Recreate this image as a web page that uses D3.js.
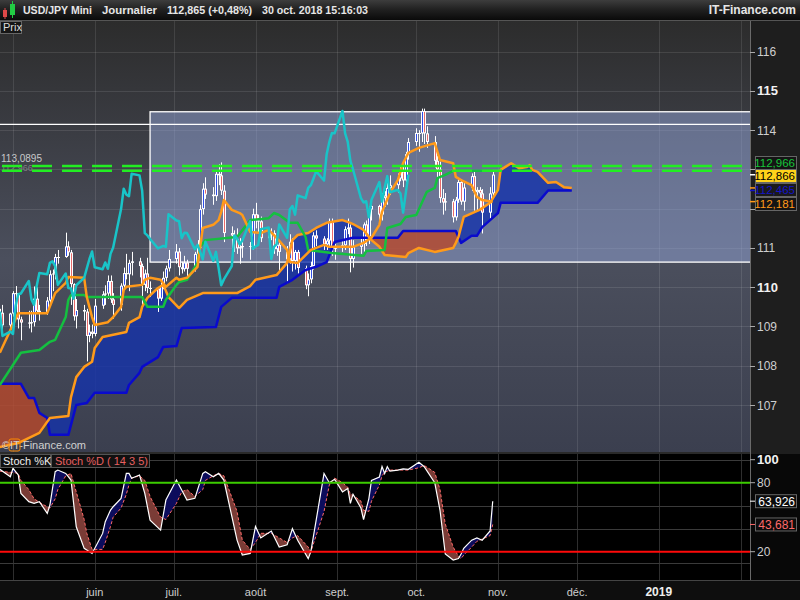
<!DOCTYPE html>
<html>
<head>
<meta charset="utf-8">
<script src="https://cdn.jsdelivr.net/npm/d3@7"></script>
<style>
  body { margin: 0; background: #1b1b1b; }
  svg { display: block; font-family: "Liberation Sans", Arial, sans-serif; }
</style>
</head>
<body>
<div id="chart"></div>
<script>
// ---- candles (USD/JPY daily, 2018) ----
const days = ["04-26","04-27","04-30",
  "05-01","05-02","05-03","05-04","05-07","05-08","05-09","05-10","05-11","05-14","05-15","05-16","05-17","05-18","05-21","05-22","05-23","05-24","05-25","05-28","05-29","05-30","05-31",
  "06-01","06-04","06-05","06-06","06-07","06-08","06-11","06-12","06-13","06-14","06-15","06-18","06-19","06-20","06-21","06-22","06-25","06-26","06-27","06-28","06-29",
  "07-02","07-03","07-04","07-05","07-06","07-09","07-10","07-11","07-12","07-13","07-16","07-17","07-18","07-19","07-20","07-23","07-24","07-25","07-26","07-27","07-30","07-31",
  "08-01","08-02","08-03","08-06","08-07","08-08","08-09","08-10","08-13","08-14","08-15","08-16","08-17","08-20","08-21","08-22","08-23","08-24","08-27","08-28","08-29","08-30","08-31",
  "09-03","09-04","09-05","09-06","09-07","09-10","09-11","09-12","09-13","09-14","09-17","09-18","09-19","09-20","09-21","09-24","09-25","09-26","09-27","09-28",
  "10-01","10-02","10-03","10-04","10-05","10-08","10-09","10-10","10-11","10-12","10-15","10-16","10-17","10-18","10-19","10-22","10-23","10-24","10-25","10-26","10-29","10-30"];

const opens = [109.30,109.35,109.03,
  109.33,109.85,109.84,109.18,109.10,109.08,109.11,109.71,109.40,109.37,109.66,110.33,110.35,110.77,110.77,111.04,110.89,110.08,109.26,109.42,109.38,108.76,108.87,
  108.81,109.53,109.82,109.84,110.16,109.69,109.55,110.04,110.36,110.33,110.62,110.66,110.54,110.06,110.35,109.98,109.97,109.71,110.05,110.24,110.48,
  110.72,110.91,110.51,110.46,110.63,110.47,110.85,111.01,111.99,112.51,112.36,112.32,112.89,112.85,112.46,111.38,111.32,111.23,110.99,111.02,111.05,111.03,
  111.86,111.70,111.68,111.25,111.39,111.38,110.97,111.08,110.90,110.71,111.16,110.67,110.90,110.49,110.05,110.20,110.54,111.32,111.24,111.09,111.19,111.68,110.98,
  111.04,111.07,111.48,111.52,110.72,111.03,111.10,111.60,111.26,111.98,112.07,111.85,112.34,112.27,112.53,112.60,112.77,112.95,112.72,113.39,
  113.70,113.93,113.92,114.49,113.92,113.70,113.22,113.00,112.27,112.16,112.19,111.78,112.23,112.68,112.18,112.54,112.83,112.42,112.48,112.39,111.90,112.39];

const highs = [109.45,109.55,109.35,
  109.90,110.03,109.85,109.25,109.40,109.40,110.02,110.00,109.55,109.75,110.43,110.45,110.85,110.95,111.39,111.17,110.95,110.10,109.70,109.55,109.45,109.05,109.05,
  109.70,109.90,110.05,110.30,110.30,109.85,110.10,110.50,110.85,110.70,110.90,110.75,110.60,110.45,110.75,110.15,110.00,110.20,110.40,110.55,110.95,
  111.10,111.00,110.65,110.80,110.70,110.90,111.20,112.10,112.65,112.80,112.55,112.95,113.13,113.18,112.60,111.55,111.45,111.50,111.25,111.20,111.15,112.00,
  112.15,111.85,111.80,111.50,111.50,111.45,111.15,111.15,111.05,111.35,111.25,110.95,110.95,110.55,110.35,110.65,111.40,111.45,111.30,111.25,111.75,111.75,111.10,
  111.20,111.55,111.75,111.60,111.20,111.25,111.65,111.70,112.05,112.15,112.10,112.40,112.45,112.65,112.85,112.90,113.10,113.15,113.45,113.80,
  114.05,114.00,114.55,114.55,114.10,113.85,113.35,113.20,112.50,112.40,112.25,112.30,112.75,112.75,112.65,112.90,112.95,112.55,112.55,112.50,112.55,112.95];

const lows = [109.05,108.90,108.95,
  109.25,109.60,108.95,108.65,108.95,108.85,109.00,109.35,109.15,109.30,109.60,109.90,110.20,110.60,110.75,110.80,109.55,109.15,108.95,109.15,108.11,108.60,108.70,
  108.75,109.45,109.55,109.70,109.60,109.20,109.40,109.95,110.20,109.90,110.30,110.25,109.55,109.90,109.85,109.75,109.37,109.65,109.95,110.15,110.40,
  110.60,110.30,110.35,110.40,110.25,110.40,110.75,110.85,111.85,112.25,112.10,112.20,112.60,112.35,111.15,110.75,110.90,110.85,110.60,110.75,110.70,110.95,
  111.50,111.40,111.15,111.05,111.20,110.85,110.80,110.40,110.10,110.60,110.40,110.45,110.35,109.95,109.77,110.10,110.45,111.05,110.95,110.95,111.05,110.80,110.70,
  110.90,110.95,111.35,110.38,110.50,110.85,110.90,111.05,111.10,111.70,111.65,111.70,112.05,112.10,112.35,112.40,112.70,112.55,112.65,113.25,
  113.60,113.45,113.70,113.65,113.55,113.05,112.75,112.15,111.85,111.95,111.65,111.70,112.15,112.10,111.95,112.45,111.95,111.95,112.00,111.37,111.75,112.25];

const closes = [109.35,109.03,109.33,
  109.85,109.84,109.18,109.10,109.08,109.11,109.71,109.40,109.37,109.66,110.33,110.35,110.77,110.77,111.04,110.89,110.08,109.26,109.42,109.38,108.76,108.87,108.81,
  109.53,109.82,109.84,110.16,109.69,109.55,110.04,110.36,110.33,110.62,110.66,110.54,110.06,110.35,109.98,109.97,109.71,110.05,110.24,110.48,110.72,
  110.91,110.51,110.46,110.63,110.47,110.85,111.01,111.99,112.51,112.36,112.32,112.89,112.85,112.46,111.38,111.32,111.23,110.99,111.02,111.05,111.03,111.86,
  111.70,111.68,111.25,111.39,111.38,110.97,111.08,110.90,110.71,111.16,110.67,110.90,110.49,110.05,110.20,110.54,111.32,111.24,111.09,111.19,111.68,110.98,111.04,
  111.07,111.48,111.52,110.72,111.03,111.10,111.60,111.26,111.98,112.07,111.85,112.34,112.27,112.53,112.60,112.77,112.95,112.72,113.39,113.70,
  113.93,113.92,114.49,113.92,113.70,113.22,113.00,112.27,112.16,112.19,111.78,112.23,112.68,112.18,112.54,112.83,112.42,112.48,112.39,111.90,112.39,112.87];

// ---- ichimoku lines ----
const tenkanDays = ["04-26","05-03","05-14","05-17","05-21","05-22","05-28","05-29","05-31","06-01","06-06","06-08","06-11","06-12","06-13","06-19","06-20","06-22","06-26","06-28","07-02","07-03","07-06","07-10","07-11","07-12","07-16","07-18","07-19","07-20","07-23","07-26","07-27","07-30","08-03","08-06","08-09","08-13","08-14","08-17","08-22","08-27","08-29","09-07","09-11","09-14","09-17","09-18","09-21","09-24","09-26","09-28","10-02","10-08","10-10","10-15","10-16","10-18","10-22","10-24","10-26","10-30"];
const tenkanValues = [108.33,109.34,109.34,109.85,110.11,110.26,110.24,109.75,109.24,109.04,109.11,109.24,109.50,109.93,110.01,110.06,110.19,110.24,110.19,110.01,110.24,110.19,110.24,110.52,111.03,111.51,111.59,111.71,111.92,112.22,111.97,111.89,111.84,111.41,111.38,111.46,111.26,110.95,110.64,110.62,110.95,111.08,111.03,111.03,111.13,111.26,111.59,111.92,112.40,112.73,113.16,113.42,113.55,113.67,113.24,113.16,112.81,112.73,112.60,112.30,112.22,112.18];

const kijunDays = ["04-26","05-04","05-11","05-15","05-17","05-21","05-22","05-23","05-28","05-29","06-19","06-21","06-27","06-28","07-02","07-03","07-06","07-10","07-11","07-13","07-25","07-30","08-06","08-08","08-10","08-14","08-17","08-20","08-21","08-30","09-11","09-12","09-19","09-20","09-25","09-27","10-01","10-05","10-08","10-09","10-12","10-15","10-30"];
const kijunValues = [107.51,108.33,108.40,108.61,108.66,109.24,109.68,109.80,109.80,109.75,109.75,109.50,109.50,109.68,110.06,110.13,110.19,110.62,111.03,111.20,111.28,111.71,111.76,111.89,111.84,111.64,111.64,111.28,110.95,110.87,110.80,110.92,110.95,111.51,111.61,111.79,111.84,112.43,112.53,112.78,112.86,112.966,112.966];

const spanADays = ["04-26","05-03","05-11","05-15","05-22","05-23","05-25","05-28","05-31","06-01","06-04","06-13","06-14","06-18","06-19","06-21","06-25","06-27","06-29","07-03","07-06","07-12","07-25","07-30","08-01","08-09","08-13","08-14","08-15","08-17","08-21","08-24","08-28","09-03","09-06","09-07","09-11","09-14","09-17","09-19","09-27","09-28","10-02","10-08","10-15","10-16","10-17","10-19","10-25","10-29","11-01","11-02","11-06","11-09","11-12","11-13","11-14","11-16","11-19","11-20","11-23","11-26","11-29"];
const spanAValues = [105.93,106.03,106.29,106.67,106.72,107.20,107.71,107.97,108.10,108.45,108.73,108.86,109.09,109.24,109.50,109.73,109.98,110.06,109.75,109.47,109.68,109.85,109.85,110.03,110.19,110.31,110.62,110.90,111.20,111.33,111.38,111.51,111.64,111.71,111.64,111.61,111.46,111.20,111.03,110.82,110.77,110.87,111.00,110.90,111.00,111.13,111.28,111.79,111.97,112.15,112.48,112.99,113.16,113.03,113.06,113.11,112.99,112.94,112.73,112.66,112.68,112.55,112.53];

const spanBDays = ["04-26","05-04","05-07","05-09","05-11","05-14","05-15","05-22","05-25","05-29","06-01","06-13","06-14","06-18","06-19","06-25","06-27","07-02","07-04","07-17","07-19","07-23","08-09","08-10","08-15","08-20","08-24","08-28","08-31","09-07","09-24","09-26","10-16","10-18","10-22","10-24","10-26","10-29","11-01","11-02","11-16","11-20","11-29"];
const spanBValues = [107.54,107.54,107.18,107.18,106.80,106.67,106.24,106.24,107.00,107.05,107.31,107.31,107.51,107.82,107.97,108.22,108.48,108.50,108.96,108.99,109.50,109.73,109.73,110.01,110.19,110.44,110.52,110.64,111.15,111.26,111.26,111.43,111.43,111.13,111.31,111.31,111.53,111.71,111.89,112.15,112.15,112.465,112.465];

const chikouShift = 22; // lagging span drawn 22 sessions back

// ---- horizontal studies ----
const dashedLevels = [113.0895, 112.966];
const zoneStart = "06-22", zoneTop = 114.47, zoneBottom = 110.64;
const resistanceLevel = 114.15;

// ---- stochastic ----
const stochDays = ["04-26","04-30","05-01","05-03","05-04","05-07","05-09","05-11","05-14","05-15","05-17","05-18","05-21","05-23","05-25","05-28","05-29","05-31","06-04","06-05","06-07","06-08","06-11","06-13","06-14","06-15","06-18","06-20","06-22","06-26","06-28","07-02","07-04","07-06","07-09","07-12","07-13","07-16","07-18","07-20","07-25","07-27","07-30","08-01","08-03","08-07","08-10","08-13","08-15","08-17","08-21","08-22","08-27","08-29","08-31","09-03","09-05","09-06","09-07","09-10","09-11","09-13","09-14","09-17","09-18","09-19","09-20","09-21","09-24","09-26","09-28","10-02","10-04","10-08","10-10","10-12","10-15","10-17","10-18","10-19","10-22","10-24","10-26","10-29","10-30"];
const stochK = [91.6,85.2,92.5,86.7,70.7,63.5,62.0,63.5,53.3,60.6,89.6,91.0,88.1,82.3,41.7,22.9,21.4,18.5,35.9,46.1,56.2,59.1,66.4,88.1,88.1,83.8,86.7,70.7,47.5,38.8,64.9,82.3,73.6,64.9,66.4,88.1,89.6,85.2,88.1,82.3,30.1,17.1,18.5,42,32,38,24,26,40,30,14,20,88,80,83,72,75,62,70,58,48,66,82,85,94,88,94,90,91,92,91.6,97.7,93.9,80,56,18,12.8,14,18,23,30,32,30,38,63.926];
const stochD = [90,89,89,88,82,74,66,63,59,58,66,74,86,88,72,48,36,22,22,28,42,50,58,70,78,84,86,82,68,50,48,62,72,74,68,74,82,86,88,86,55,30,22,28,36,36,32,28,32,34,24,20,55,78,84,80,76,70,69,64,56,55,64,78,86,89,90,91,91,91,91,93,95,89,74,44,24,16,14,17,24,29,31,34,43.681];
const stochLevels = [80, 20];
const stochGrid = [100, 60, 40, 10];

// ---- axes ----
const priceTicks = [107,108,109,110,111,112,113,114,115,116];
const hiddenTicks = [112, 113]; // covered by the value tags
const monthLines = ["2018-05-01","2018-06-01","2018-07-01","2018-08-01","2018-09-01","2018-10-01","2018-11-01","2018-12-01","2019-01-01","2019-02-01"];
const monthLabels = ["","juin","juil.","août","sept.","oct.","nov.","déc.","2019",""];

// ---------------------------------------------------------------
const W = 800, H = 600, plotR = 750;
const pTop = 21, pBot = 452, sTop = 454, sBot = 580;

const parseDate = d3.timeParse("%Y-%m-%d");
const day = s => parseDate("2018-" + s);

const x = d3.scaleTime()
    .domain([new Date(2018, 4, 1), new Date(2018, 10, 1)])
    .range([13, 498]);
const yP = d3.scaleLinear().domain([107, 116]).range([405, 51.7]);
const yS = d3.scaleLinear().domain([20, 80]).range([551.7, 482.7]);

const pts = (ds, vs) => ds.map((d, i) => ({date: day(d), v: vs[i]}));
const candles = days.map((d, i) => ({date: day(d), o: opens[i], h: highs[i], l: lows[i], c: closes[i]}));
const tenkan = pts(tenkanDays, tenkanValues);
const kijun = pts(kijunDays, kijunValues);
const spanA = pts(spanADays, spanAValues);
const spanB = pts(spanBDays, spanBValues);
const chikou = closes.slice(chikouShift).map((c, i) => ({date: day(days[i]), v: c}));
const kPts = pts(stochDays, stochK);
const dPts = pts(stochDays, stochD);

const svg = d3.select('#chart').append('svg').attr('width', W).attr('height', H);
const defs = svg.append('defs');

function vGrad(id, stops) {
  const g = defs.append('linearGradient').attr('id', id)
      .attr('x1', 0).attr('y1', 0).attr('x2', 0).attr('y2', 1);
  stops.forEach(s => g.append('stop').attr('offset', s[0]).attr('stop-color', s[1]));
}
vGrad('hdr', [[0, '#3d3d3d'], [0.45, '#222'], [1, '#0a0a0a']]);
vGrad('pbg', [[0, '#2c2c2c'], [0.55, '#4b4f5d'], [1, '#3b3f4f']]);

svg.append('rect').attr('width', W).attr('height', H).attr('fill', '#1c1c1c');

// header
svg.append('rect').attr('width', W).attr('height', 20).attr('fill', 'url(#hdr)');
svg.append('line').attr('x1', 0).attr('x2', W).attr('y1', 20.5).attr('y2', 20.5).attr('stroke', '#555');
svg.append('rect').attr('x', 3).attr('y', 10).attr('width', 4).attr('height', 7).attr('fill', '#e04848');
svg.append('line').attr('x1', 5).attr('x2', 5).attr('y1', 8).attr('y2', 19).attr('stroke', '#e04848');
svg.append('rect').attr('x', 10).attr('y', 4).attr('width', 5).attr('height', 11).attr('fill', '#22cc44');
svg.append('line').attr('x1', 12.5).attr('x2', 12.5).attr('y1', 1).attr('y2', 18).attr('stroke', '#22cc44');
const hdr = svg.append('g').attr('font-weight', 'bold').attr('font-size', 11).attr('fill', '#e6e6e6');
[["USD/JPY Mini", 23, 69], ["Journalier", 102, 55], ["112,865 (+0,48%)", 167, 85], ["30 oct. 2018 15:16:03", 262, 106]]
  .forEach(t => hdr.append('text').attr('x', t[1]).attr('y', 14)
      .attr('textLength', t[2]).attr('lengthAdjust', 'spacingAndGlyphs').text(t[0]));
hdr.append('text').attr('x', 796).attr('y', 14).attr('text-anchor', 'end').attr('font-size', 12).text('IT-Finance.com');

// ---------------- price panel ----------------
defs.append('clipPath').attr('id', 'pclip').append('rect')
    .attr('x', 0).attr('y', pTop).attr('width', plotR).attr('height', pBot - pTop);
svg.append('rect').attr('x', 0).attr('y', pTop).attr('width', plotR).attr('height', pBot - pTop)
    .attr('fill', 'url(#pbg)');
const price = svg.append('g').attr('clip-path', 'url(#pclip)');

price.selectAll('line.hg').data(priceTicks).join('line')
    .attr('x1', 0).attr('x2', plotR)
    .attr('y1', d => Math.round(yP(d)) + 0.5).attr('y2', d => Math.round(yP(d)) + 0.5)
    .attr('stroke', 'rgba(255,255,255,0.10)');
price.selectAll('line.vg').data(monthLines).join('line')
    .attr('x1', d => Math.round(x(parseDate(d))) + 0.5).attr('x2', d => Math.round(x(parseDate(d))) + 0.5)
    .attr('y1', pTop).attr('y2', pBot)
    .attr('stroke', 'rgba(255,255,255,0.10)');

// zone rectangle and level line
price.append('rect')
    .attr('x', x(day(zoneStart))).attr('y', yP(zoneTop))
    .attr('width', plotR - x(day(zoneStart)) + 5).attr('height', yP(zoneBottom) - yP(zoneTop))
    .attr('fill', 'rgba(147,165,217,0.5)').attr('stroke', '#fff').attr('stroke-width', 1.3);
price.append('line').attr('x1', 0).attr('x2', plotR)
    .attr('y1', yP(resistanceLevel)).attr('y2', yP(resistanceLevel))
    .attr('stroke', '#fff').attr('stroke-width', 1.3);

// kumo fill: clip technique for the two spans
function diffFill(g, id, aPts, bPts, yScale, top, bottom, colorA, colorB) {
  const area = y0 => d3.area().x(d => x(d.date)).y0(y0).y1(d => yScale(d.v));
  defs.append('clipPath').attr('id', id + 'b').append('path').attr('d', area(top)(bPts));
  defs.append('clipPath').attr('id', id + 'a').append('path').attr('d', area(top)(aPts));
  g.append('path').attr('d', area(bottom)(aPts)).attr('clip-path', `url(#${id}b)`).attr('fill', colorA);
  g.append('path').attr('d', area(bottom)(bPts)).attr('clip-path', `url(#${id}a)`).attr('fill', colorB);
}
diffFill(price.append('g'), 'kumo', spanA, spanB, yP, pTop, pBot, 'rgba(20,50,170,0.8)', 'rgba(185,73,43,0.8)');

const line = d3.line().x(d => x(d.date)).y(d => yP(d.v));
function drawLine(data, color, w) {
  price.append('path').datum(data).attr('d', line)
      .attr('fill', 'none').attr('stroke', color).attr('stroke-width', w)
      .attr('stroke-linejoin', 'round');
}

// candles
const cg = price.append('g');
cg.selectAll('line').data(candles).join('line')
    .attr('x1', d => Math.round(x(d.date)) + 0.5).attr('x2', d => Math.round(x(d.date)) + 0.5)
    .attr('y1', d => yP(d.h)).attr('y2', d => yP(d.l))
    .attr('stroke', '#fff').attr('stroke-width', 1);
cg.selectAll('rect.body').data(candles).join('rect').attr('class', 'body')
    .attr('x', d => Math.round(x(d.date)) - 1).attr('width', 3)
    .attr('y', d => yP(Math.max(d.o, d.c)))
    .attr('height', d => Math.max(1, Math.abs(yP(d.o) - yP(d.c))))
    .attr('fill', '#fff');
cg.selectAll('rect.core').data(candles).join('rect').attr('class', 'core')
    .attr('x', d => Math.round(x(d.date))).attr('width', 1)
    .attr('y', d => yP(Math.max(d.o, d.c)) + 1)
    .attr('height', d => Math.max(0, Math.abs(yP(d.o) - yP(d.c)) - 2))
    .attr('fill', d => d.c >= d.o ? '#2f4fe8' : '#e86a6a');

drawLine(spanB, '#0a0acc', 2.5);
drawLine(spanA, '#ff9a1a', 2.5);
drawLine(kijun, '#14c040', 2.5);
drawLine(tenkan, '#ff9a1a', 2.5);
drawLine(chikou, '#19c4c8', 2.5);

// dashed horizontal levels (the second label sits under the dashes, as in the source)
price.append('text').attr('x', 1).attr('y', yP(dashedLevels[0]) - 3.5)
    .attr('font-size', 10).attr('fill', '#c8c8c8').text('113,0895');
price.append('text').attr('x', 1).attr('y', yP(dashedLevels[1]) + 0.5)
    .attr('font-size', 9).attr('fill', '#9a9a9a').attr('opacity', 0.7).text('112,966');
price.selectAll('line.dash').data(dashedLevels).join('line')
    .attr('x1', 2).attr('x2', 742)
    .attr('y1', d => yP(d)).attr('y2', d => yP(d))
    .attr('stroke', '#22ee22').attr('stroke-width', 2.5).attr('stroke-dasharray', '20,10');

// watermark
price.append('text').attr('x', 2).attr('y', pBot - 3).attr('font-size', 11).attr('fill', '#d0d0d0')
    .text('©IT-Finance.com');
price.append('rect').attr('x', 9).attr('y', pBot - 13).attr('width', 11).attr('height', 12).attr('rx', 2)
    .attr('fill', 'none').attr('stroke', '#ff8a00').attr('stroke-width', 1);

// Prix tag
svg.append('rect').attr('x', 0.5).attr('y', 21.5).attr('width', 21).attr('height', 12)
    .attr('fill', '#161616').attr('stroke', '#666');
svg.append('text').attr('x', 3).attr('y', 31).attr('font-size', 11).attr('fill', '#ddd').text('Prix');

// ---------------- right price axis ----------------
svg.append('rect').attr('x', plotR).attr('y', pTop).attr('width', W - plotR).attr('height', sBot - pTop)
    .attr('fill', '#1e1e1e');
svg.append('line').attr('x1', plotR + 0.5).attr('x2', plotR + 0.5).attr('y1', pTop).attr('y2', sBot)
    .attr('stroke', '#6a6a6a');
const ax = svg.append('g');
ax.selectAll('line').data(priceTicks).join('line')
    .attr('x1', plotR).attr('x2', plotR + 5)
    .attr('y1', d => Math.round(yP(d)) + 0.5).attr('y2', d => Math.round(yP(d)) + 0.5)
    .attr('stroke', '#aaa');
ax.selectAll('text').data(priceTicks.filter(d => !hiddenTicks.includes(d))).join('text')
    .attr('x', 757).attr('y', d => yP(d) + 4.5)
    .attr('font-size', d => d % 5 === 0 ? 13 : 12)
    .attr('font-weight', d => d % 5 === 0 ? 'bold' : 'normal')
    .attr('fill', d => d % 5 === 0 ? '#f2f2f2' : '#cfcfcf')
    .text(d => d);

// value tags on the axis
const tags = [
  {v: '112,966', y: 156, fg: '#16c43a', bg: '#141414'},
  {v: '112,866', y: 169, fg: '#000', bg: '#ffd21a'},
  {v: '112,465', y: 183, fg: '#1414c8', bg: '#1a1a1a'},
  {v: '112,181', y: 197, fg: '#ff9a1a', bg: '#141414'}
];
const tg = svg.append('g');
tags.forEach(t => {
  tg.append('rect').attr('x', 755.5).attr('y', t.y + 0.5).attr('width', 41).attr('height', 13)
      .attr('fill', t.bg).attr('stroke', '#666');
  tg.append('text').attr('x', 795).attr('y', t.y + 10.5).attr('text-anchor', 'end')
      .attr('font-size', 11.5).attr('fill', t.fg).text(t.v);
});
[[yP(112.866), '#fff'], [yP(112.53), '#ff9a1a'], [yP(112.465), '#1414c8'], [yP(112.181), '#ff9a1a']]
  .forEach(m => svg.append('line').attr('x1', plotR).attr('x2', plotR + 5)
      .attr('y1', m[0]).attr('y2', m[0]).attr('stroke', m[1]).attr('stroke-width', 1.5));

// ---------------- stochastic panel ----------------
svg.append('rect').attr('x', 0).attr('y', pBot).attr('width', plotR).attr('height', sTop - pBot).attr('fill', '#2a2a2a');
svg.append('rect').attr('x', 0).attr('y', sTop).attr('width', plotR).attr('height', sBot - sTop).attr('fill', '#000');
svg.append('rect').attr('x', plotR + 1).attr('y', sTop).attr('width', W - plotR).attr('height', sBot - sTop).attr('fill', '#080808');
defs.append('clipPath').attr('id', 'sclip').append('rect')
    .attr('x', 0).attr('y', sTop).attr('width', plotR).attr('height', sBot - sTop);
const st = svg.append('g').attr('clip-path', 'url(#sclip)');

st.selectAll('line.vg').data(monthLines).join('line')
    .attr('x1', d => Math.round(x(parseDate(d))) + 0.5).attr('x2', d => Math.round(x(parseDate(d))) + 0.5)
    .attr('y1', sTop).attr('y2', sBot).attr('stroke', '#2e2e2e');
st.selectAll('line.hg').data(stochGrid).join('line')
    .attr('x1', 0).attr('x2', plotR)
    .attr('y1', d => Math.round(yS(d)) + 0.5).attr('y2', d => Math.round(yS(d)) + 0.5)
    .attr('stroke', '#3a3a3a');

diffFill(st.append('g'), 'stoch', kPts, dPts, yS, sTop, sBot, '#0c0c5c', '#7a3c36');

st.append('path').datum(dPts)
    .attr('d', d3.line().x(d => x(d.date)).y(d => yS(d.v)))
    .attr('fill', 'none').attr('stroke', '#ff6a6a').attr('stroke-width', 1).attr('stroke-dasharray', '3,2');
st.append('path').datum(kPts)
    .attr('d', d3.line().x(d => x(d.date)).y(d => yS(d.v)))
    .attr('fill', 'none').attr('stroke', '#fff').attr('stroke-width', 1.2);

st.selectAll('line.lvl').data(stochLevels).join('line')
    .attr('x1', 0).attr('x2', plotR)
    .attr('y1', d => yS(d)).attr('y2', d => yS(d))
    .attr('stroke', d => d === 80 ? '#3ccc00' : '#ff0a0a').attr('stroke-width', 2);

// legend
svg.append('rect').attr('x', 0.5).attr('y', sTop + 0.5).attr('width', 50).attr('height', 13)
    .attr('fill', '#111').attr('stroke', '#555');
svg.append('text').attr('x', 3).attr('y', sTop + 11).attr('font-size', 11).attr('fill', '#eee').text('Stoch %K');
svg.append('rect').attr('x', 51.5).attr('y', sTop + 0.5).attr('width', 98).attr('height', 13)
    .attr('fill', '#111').attr('stroke', '#555');
svg.append('text').attr('x', 55).attr('y', sTop + 11).attr('font-size', 11).attr('fill', '#e86060').text('Stoch %D ( 14 3 5)');

// stoch axis
const sAx = svg.append('g');
[[100, true], [80, false], [20, false]].forEach(t => {
  sAx.append('line').attr('x1', plotR).attr('x2', plotR + 5).attr('y1', yS(t[0])).attr('y2', yS(t[0])).attr('stroke', '#aaa');
  sAx.append('text').attr('x', 757).attr('y', yS(t[0]) + 4.5)
      .attr('font-size', t[1] ? 13 : 12).attr('font-weight', t[1] ? 'bold' : 'normal')
      .attr('fill', t[1] ? '#f2f2f2' : '#cfcfcf').text(t[0]);
});
[[stochK[stochK.length - 1], '63,926', '#fff'], [stochD[stochD.length - 1], '43,681', '#ff6a6a']].forEach(t => {
  const yy = yS(t[0]);
  sAx.append('line').attr('x1', plotR).attr('x2', plotR + 5).attr('y1', yy).attr('y2', yy).attr('stroke', t[2]);
  sAx.append('rect').attr('x', 755.5).attr('y', yy - 6.5).attr('width', 41).attr('height', 13)
      .attr('fill', '#0c0c0c').attr('stroke', '#666');
  sAx.append('text').attr('x', 795).attr('y', yy + 4.5).attr('text-anchor', 'end')
      .attr('font-size', 12).attr('fill', t[2]).text(t[1]);
});

// ---------------- time axis ----------------
svg.append('rect').attr('x', 0).attr('y', sBot).attr('width', W).attr('height', H - sBot).attr('fill', '#0e0e0e');
svg.append('line').attr('x1', 0).attr('x2', W).attr('y1', sBot + 0.5).attr('y2', sBot + 0.5).attr('stroke', '#444');
svg.append('g').selectAll('text').data(monthLines).join('text')
    .attr('x', d => x(parseDate(d))).attr('y', 596)
    .attr('text-anchor', 'middle')
    .attr('font-size', (d, i) => monthLabels[i] === '2019' ? 12 : 11)
    .attr('font-weight', (d, i) => monthLabels[i] === '2019' ? 'bold' : 'normal')
    .attr('fill', (d, i) => monthLabels[i] === '2019' ? '#eee' : '#cfcfcf')
    .text((d, i) => monthLabels[i]);
</script>
</body>
</html>
